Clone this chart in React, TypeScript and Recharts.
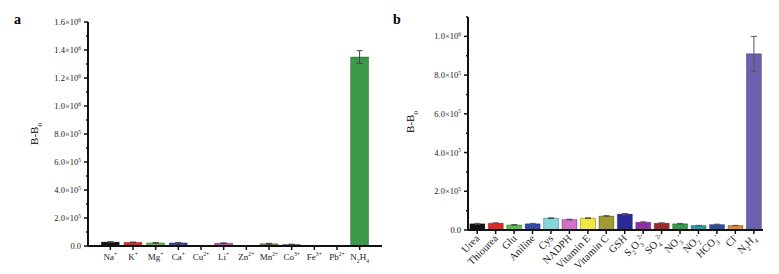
import React from 'react';
import { BarChart, Bar, XAxis, YAxis, Cell, ErrorBar } from 'recharts';

// panel a: metal ions
const ionLabels = ['Na^+', 'K^+', 'Mg^+', 'Ca^+', 'Cu^{2+}', 'Li^+', 'Zn^{2+}', 'Mn^{2+}', 'Co^{3+}', 'Fe^{3+}', 'Pb^{2+}', 'N_2H_4'];
const ionValues = [28000, 26000, 22000, 22000, 2000, 20000, 1000, 16000, 10000, 0, 0, 1350000];
const ionErrors = [3000, 2000, 2000, 2000, 0, 2000, 0, 3000, 3000, 0, 0, 45000];
const ionColors = ['#111111', '#e02828', '#5cc04a', '#2e48b8', '#d0d0d0', '#c845c0', '#d0d0d0', '#8a8a30', '#1c1c5a', '#d0d0d0', '#d0d0d0', '#3a9a48'];
const ionTicks = [0, 100000, 200000, 300000, 400000, 500000, 600000, 700000, 800000, 900000, 1000000, 1100000, 1200000, 1300000, 1400000, 1500000, 1600000];

// panel b: other species
const speciesLabels = ['Urea', 'Thiourea', 'Glu', 'Aniline', 'Cys', 'NADPH', 'Vitamin E', 'Vitamin C', 'GSH', 'S_2O_3^{2-}', 'SO_4^{2-}', 'NO_3^-', 'NO_2^-', 'HCO_3^-', 'Cl^-', 'N_2H_4'];
const speciesValues = [32000, 35000, 26000, 32000, 61000, 54000, 61000, 72000, 82000, 40000, 35000, 32000, 23000, 28000, 23000, 910000];
const speciesErrors = [2000, 2000, 2000, 2000, 2000, 2000, 2000, 2000, 3000, 2000, 2000, 2000, 1000, 2000, 1000, 90000];
const speciesColors = ['#111111', '#e02828', '#5cc04a', '#2e48b8', '#86d6dc', '#d070c8', '#f2e640', '#a09a30', '#2a2a96', '#9030a8', '#a02828', '#30a048', '#20a0a8', '#2c4ca8', '#e88a2c', '#6a5fb0'];
const speciesTicks = [0, 100000, 200000, 300000, 400000, 500000, 600000, 700000, 800000, 900000, 1000000, 1100000];

const FONT = '"Liberation Serif", "Times New Roman", serif';
const TICK_SIZE = 4;
const TICK_MARGIN = 3;

const ionData = ionLabels.map((name, i) => ({ name, value: ionValues[i], err: ionErrors[i] }));
const speciesData = speciesLabels.map((name, i) => ({ name, value: speciesValues[i], err: speciesErrors[i] }));

function parseRich(s: string) {
  const parts: { t: string; k: 'n' | 'sub' | 'sup' }[] = [];
  let i = 0;
  while (i < s.length) {
    const c = s[i];
    if (c === '_' || c === '^') {
      let t;
      if (s[i + 1] === '{') {
        const j = s.indexOf('}', i);
        t = s.slice(i + 2, j);
        i = j + 1;
      } else {
        t = s[i + 1];
        i += 2;
      }
      parts.push({ t, k: c === '_' ? 'sub' : 'sup' });
    } else {
      let j = i;
      while (j < s.length && s[j] !== '_' && s[j] !== '^') j++;
      parts.push({ t: s.slice(i, j), k: 'n' });
      i = j;
    }
  }
  return parts;
}

// tspans with sub/superscript shifts; every tspan gets its own dy
function richSpans(s: string, fs: number) {
  let shift = 0;
  return parseRich(s).map((p, i) => {
    const target = p.k === 'sub' ? fs * 0.3 : p.k === 'sup' ? -fs * 0.4 : 0;
    const dy = target - shift;
    shift = target;
    return (
      <tspan key={i} dy={dy} fontSize={p.k === 'n' ? fs : fs * 0.62}>
        {p.t}
      </tspan>
    );
  });
}

function YTick({ x, y, payload }: any) {
  const v = payload.value;
  const major = Math.round(v / 100000) % 2 === 0;
  const axisX = x + TICK_SIZE + TICK_MARGIN;
  let main = '0.0';
  let exp = '';
  if (v !== 0) {
    const e = Math.floor(Math.log10(v) + 1e-9);
    main = (v / Math.pow(10, e)).toFixed(1) + '×10';
    exp = String(e);
  }
  return (
    <g>
      <line x1={axisX} x2={axisX - (major ? 4 : 2)} y1={y} y2={y} stroke="#111" strokeWidth={1.5} />
      {major && (
        <text x={x} y={y + 3} textAnchor="end" fontFamily={FONT} fontSize={8.5} fill="#222">
          {main}
          {exp && (
            <tspan dy={-3.5} fontSize={5.5}>
              {exp}
            </tspan>
          )}
        </text>
      )}
    </g>
  );
}

function XTickA({ x, y, payload }: any) {
  return (
    <text x={x} y={y + 8} textAnchor="middle" fontFamily={FONT} fontSize={9} fill="#222">
      {richSpans(payload.value, 9)}
    </text>
  );
}

function XTickB({ x, y, payload }: any) {
  const tx = x + 3;
  const ty = y + 3;
  return (
    <g transform={`translate(${tx} ${ty})`}>
      <g transform="rotate(-45)">
        <text x={0} y={0} textAnchor="end" fontFamily={FONT} fontSize={10.5} fill="#222">
          {richSpans(payload.value, 10.5)}
        </text>
      </g>
    </g>
  );
}

const axisStyle = { stroke: '#111', strokeWidth: 2 };

export default function App() {
  return (
    <div style={{ position: 'absolute', left: 0, top: 0, width: 779, height: 274, background: '#fff', fontFamily: FONT }}>
      <div style={{ position: 'absolute', left: 0, top: 0 }}>
        <BarChart width={390} height={274} data={ionData} margin={{ top: 22, right: 8, bottom: 0, left: 0 }} barCategoryGap="10%">
          <XAxis
            dataKey="name"
            height={28}
            interval={0}
            padding={{ left: 11, right: 11 }}
            axisLine={axisStyle}
            tickLine={{ stroke: '#111', strokeWidth: 1.5 }}
            tickSize={TICK_SIZE}
            tick={<XTickA />}
          />
          <YAxis
            width={88}
            domain={[0, 1600000]}
            ticks={ionTicks}
            interval={0}
            axisLine={axisStyle}
            tickLine={false}
            tickSize={TICK_SIZE}
            tickMargin={TICK_MARGIN}
            tick={<YTick />}
          />
          <Bar dataKey="value" isAnimationActive={false} stroke="rgba(0,0,0,0.35)" strokeWidth={0.8}>
            {ionData.map((d, i) => (
              <Cell key={d.name} fill={ionColors[i]} />
            ))}
            <ErrorBar dataKey="err" width={3} stroke="#444" strokeWidth={1} isAnimationActive={false} />
          </Bar>
        </BarChart>
      </div>
      <div style={{ position: 'absolute', left: 390, top: 0 }}>
        <BarChart width={389} height={274} data={speciesData} margin={{ top: 17, right: 16, bottom: 0, left: 0 }} barCategoryGap="10%">
          <XAxis
            dataKey="name"
            height={44}
            interval={0}
            axisLine={axisStyle}
            tickLine={{ stroke: '#111', strokeWidth: 1.5 }}
            tickSize={TICK_SIZE}
            tick={<XTickB />}
          />
          <YAxis
            width={78}
            domain={[0, 1100000]}
            ticks={speciesTicks}
            interval={0}
            axisLine={axisStyle}
            tickLine={false}
            tickSize={TICK_SIZE}
            tickMargin={TICK_MARGIN}
            tick={<YTick />}
          />
          <Bar dataKey="value" isAnimationActive={false} stroke="rgba(0,0,0,0.35)" strokeWidth={0.8}>
            {speciesData.map((d, i) => (
              <Cell key={d.name} fill={speciesColors[i]} />
            ))}
            <ErrorBar dataKey="err" width={3} stroke="#555" strokeWidth={1} isAnimationActive={false} />
          </Bar>
        </BarChart>
      </div>
      <div style={{ position: 'absolute', left: 14, top: 12, fontSize: 14, fontWeight: 'bold' }}>a</div>
      <div style={{ position: 'absolute', left: 393, top: 12, fontSize: 14, fontWeight: 'bold' }}>b</div>
      <div style={{ position: 'absolute', left: 36, top: 134, fontSize: 11, transform: 'translate(-50%,-50%) rotate(-90deg)', whiteSpace: 'nowrap' }}>
        B-B<sub style={{ fontSize: 7 }}>0</sub>
      </div>
      <div style={{ position: 'absolute', left: 412, top: 122, fontSize: 11, transform: 'translate(-50%,-50%) rotate(-90deg)', whiteSpace: 'nowrap' }}>
        B-B<sub style={{ fontSize: 7 }}>0</sub>
      </div>
    </div>
  );
}
